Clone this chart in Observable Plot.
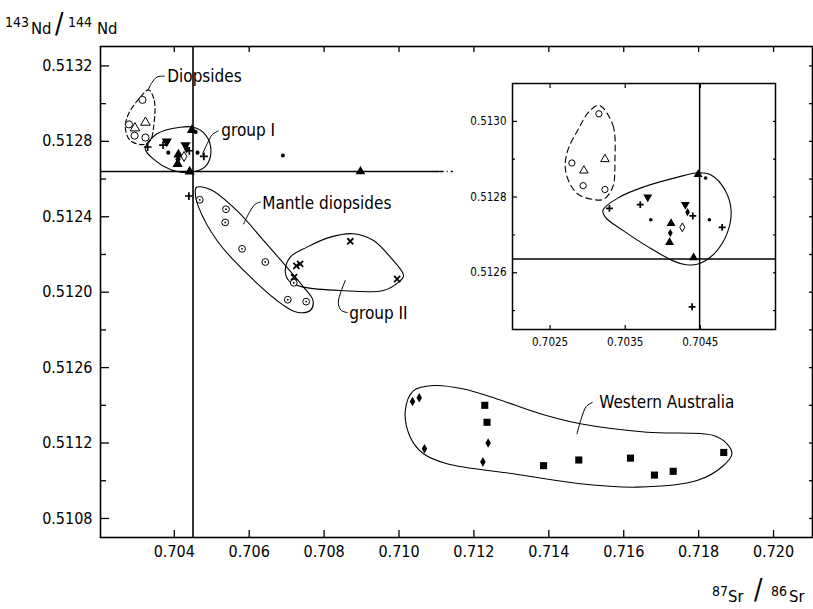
<!DOCTYPE html>
<html>
<head>
<meta charset="utf-8">
<script src="https://cdn.jsdelivr.net/npm/d3@7"></script>
<script src="https://cdn.jsdelivr.net/npm/@observablehq/plot@0.6"></script>
<style>
  html, body { margin: 0; padding: 0; background: white; }
  #wrap { position: relative; width: 813px; height: 609px; overflow: hidden; background: white;
          font-family: "DejaVu Sans Condensed", "DejaVu Sans", sans-serif; color: black; }
  #main { position: absolute; left: 0; top: 0; }
  #inset { position: absolute; left: 462px; top: 81px; }
  .t { position: absolute; line-height: 1; white-space: nowrap; }
</style>
</head>
<body>
<div id="wrap">
  <div id="main"></div>
  <div id="inset"></div>
  <span class="t" style="left:5px;top:15px;font-size:14px">143</span>
  <span class="t" style="left:31px;top:21px;font-size:16.5px">Nd</span>
  <span class="t" style="left:55px;top:10px;font-size:28px">/</span>
  <span class="t" style="left:68px;top:15px;font-size:14px">144</span>
  <span class="t" style="left:97px;top:21px;font-size:16.5px">Nd</span>
  <span class="t" style="left:712px;top:584px;font-size:14px">87</span>
  <span class="t" style="left:728px;top:589px;font-size:16.5px">Sr</span>
  <span class="t" style="left:754px;top:576px;font-size:28px">/</span>
  <span class="t" style="left:771px;top:584px;font-size:14px">86</span>
  <span class="t" style="left:789px;top:589px;font-size:16.5px">Sr</span>
</div>
<script>
// ---------------- data ----------------
// axes (main)
const mainXDomain = [0.70203, 0.72104];
const mainYDomain = [0.510699, 0.513303];
const xTicks = [0.704, 0.706, 0.708, 0.710, 0.712, 0.714, 0.716, 0.718, 0.720];
const yTicks = [0.5108, 0.5112, 0.5116, 0.5120, 0.5124, 0.5128, 0.5132];
const yTickLabels = ["0.5108", "0.5112", "0.5126", "0.5120", "0.5124", "0.5128", "0.5132"];
const yMinorTicks = [0.5110, 0.5114, 0.5118, 0.5122, 0.5126, 0.5130];
const yRightTicks = [0.5108, 0.5110, 0.5112, 0.5114, 0.5116, 0.5118, 0.5120, 0.5122, 0.5124, 0.5126, 0.5128, 0.5130, 0.5132];
// axes (inset)
const insetXDomain = [0.7020, 0.7055];
const insetYDomain = [0.51245, 0.51310];
const insetXTicks = [0.7025, 0.7035, 0.7045];
const insetYTicks = [0.5126, 0.5128, 0.5130];
const insetYMinor = [0.5125, 0.5127, 0.5129];
const insetYRight = [0.5125, 0.5126, 0.5127, 0.5128, 0.5129, 0.5130];

// reference lines (CHUR / bulk earth)
const refSr = 0.7045;
const refNd = 0.51264;
const refLineEnd = 0.71110;
const refLineDashEnd = 0.71145;

// Diopsides (open symbols)
const diopCircles = [[0.70315, 0.51302], [0.70279, 0.51289], [0.70294, 0.51283], [0.70323, 0.51282]];
const diopTriangles = [[0.70323, 0.51290], [0.70295, 0.51287]];
// group I
const g1TriUp = [[0.70447, 0.51286], [0.70411, 0.51273], [0.70409, 0.51268], [0.70441, 0.51264]];
const g1TriDown = [[0.70380, 0.51280], [0.70430, 0.51278]];
const g1Dots = [[0.70457, 0.51285], [0.70384, 0.51274], [0.70462, 0.51274]];
const g1Plus = [[0.70329, 0.51277], [0.70370, 0.51278], [0.70440, 0.51275], [0.70479, 0.51272]];
const g1DiamondFilled = [[0.70433, 0.51276], [0.70410, 0.512705]];
const g1DiamondOpen = [[0.70426, 0.51272]];
const loosePlus = [[0.70439, 0.51251]];
// other samples (main plot only)
const otherDots = [[0.70690, 0.512725]];
const otherTriangles = [[0.70897, 0.51264]];
const mantleDiopsides = [[0.70468, 0.51249], [0.70538, 0.51244], [0.70536, 0.51237], [0.70581, 0.51223],
  [0.70643, 0.51216], [0.70719, 0.51205], [0.70703, 0.51196], [0.70752, 0.51195]];
const groupII = [[0.70870, 0.51227], [0.70726, 0.51214], [0.70736, 0.51215], [0.70720, 0.51208], [0.70995, 0.51207]];
const waDiamonds = [[0.71036, 0.51142], [0.71054, 0.51144], [0.71068, 0.51117], [0.71238, 0.51120], [0.71224, 0.51110]];
const waSquares = [[0.71229, 0.51140], [0.71235, 0.51131], [0.71386, 0.51108], [0.71480, 0.51111],
  [0.71618, 0.51112], [0.71682, 0.51103], [0.71732, 0.51105], [0.71867, 0.51115]];

// field outlines (main)
const hullDiopMain = [[0.703314, 0.513073], [0.703466, 0.513016], [0.703447, 0.512875], [0.703359, 0.512804],
  [0.70318, 0.512783], [0.702825, 0.512804], [0.702692, 0.512875], [0.70278, 0.512946], [0.703092, 0.513034]];
const hullG1Main = [[0.703226, 0.51276], [0.703538, 0.51284], [0.70416, 0.512875], [0.704515, 0.512875],
  [0.704828, 0.512836], [0.70498, 0.512751], [0.704828, 0.512666], [0.704374, 0.512635], [0.703893, 0.512651], [0.703493, 0.512698]];
const hullMantle = [[0.704587, 0.512555], [0.704961, 0.512545], [0.705674, 0.512433], [0.706384, 0.512274],
  [0.706964, 0.512142], [0.707452, 0.512027], [0.707703, 0.511956], [0.707631, 0.511903], [0.707276, 0.511894],
  [0.706918, 0.51193], [0.705941, 0.512098], [0.70514, 0.512274], [0.704649, 0.512451], [0.704561, 0.512523]];
const hullG2 = [[0.706964, 0.512106], [0.707098, 0.512186], [0.707543, 0.512239], [0.708165, 0.512292],
  [0.708787, 0.51231], [0.709321, 0.512274], [0.709767, 0.512186], [0.710122, 0.512089], [0.709988, 0.512053],
  [0.709588, 0.512009], [0.708432, 0.512009], [0.707452, 0.512027], [0.707098, 0.512053]];
const hullWA = [[0.710168, 0.511372], [0.710389, 0.511478], [0.710923, 0.511505], [0.711724, 0.511487],
  [0.712616, 0.511434], [0.713772, 0.511355], [0.71484, 0.511302], [0.716621, 0.511257], [0.718399, 0.51124],
  [0.718757, 0.511196], [0.71889, 0.511143], [0.718666, 0.511081], [0.717956, 0.511001], [0.716354, 0.510966],
  [0.71484, 0.510984], [0.713059, 0.511037], [0.711281, 0.51109], [0.710656, 0.511143], [0.710301, 0.511231]];
// field outlines (inset)
const hullDiopInset = [[0.703153, 0.513042], [0.703336, 0.51299], [0.703363, 0.512897], [0.703336, 0.512828],
  [0.70322, 0.512795], [0.703087, 0.512793], [0.702856, 0.51281], [0.702709, 0.512866], [0.702729, 0.512919],
  [0.702883, 0.512982], [0.70302, 0.513026]];
const hullG1Inset = [[0.703203, 0.512765], [0.703416, 0.512799], [0.70375, 0.512827], [0.70419, 0.512852],
  [0.704476, 0.512864], [0.704643, 0.512858], [0.704829, 0.512818], [0.704909, 0.512765], [0.704856, 0.512704],
  [0.704683, 0.51265], [0.704469, 0.512623], [0.704309, 0.512621], [0.704153, 0.51263], [0.703816, 0.512667],
  [0.703469, 0.512712], [0.703243, 0.512745]];

// labels and leader lines (main)
const fieldLabels = [
  {x: 0.703786, y: 0.513144, t: "Diopsides"},
  {x: 0.705228, y: 0.512857, t: "group I"},
  {x: 0.706323, y: 0.512470, t: "Mantle diopsides"},
  {x: 0.708646, y: 0.511887, t: "group II"},
  {x: 0.715321, y: 0.511415, t: "Western Australia"}
];
const leaderDiop = [[0.703306, 0.513075], [0.703405, 0.513112], [0.703538, 0.513141], [0.703733, 0.513146]];
const leaderG1 = [[0.704748, 0.51273], [0.704881, 0.512788], [0.705015, 0.512836], [0.705175, 0.512855]];
const leaderMantle = [[0.70585, 0.512362], [0.706003, 0.512422], [0.706163, 0.512467], [0.706296, 0.512478]];
const leaderG2 = [[0.708566, 0.512062], [0.708379, 0.511945], [0.708459, 0.511903], [0.708619, 0.511892]];
const leaderWA = [[0.714752, 0.511249], [0.714867, 0.51133], [0.715, 0.511394], [0.71516, 0.511415]];

// ---------------- drawing ----------------
const X = d => d[0], Y = d => d[1];
const FONT = '"DejaVu Sans Condensed", "DejaVu Sans", sans-serif';
const S3 = Math.sqrt(3);
const triDown = {draw(ctx, size) {
  const y = Math.sqrt(size / (S3 * 3));
  ctx.moveTo(0, 2 * y); ctx.lineTo(S3 * y, -y); ctx.lineTo(-S3 * y, -y); ctx.closePath();
}};
const plusSym = {draw(ctx, size) {
  const r = Math.sqrt(size / Math.PI);
  ctx.moveTo(-r, 0); ctx.lineTo(r, 0); ctx.moveTo(0, -r); ctx.lineTo(0, r);
}};
const timesSym = {draw(ctx, size) {
  const r = Math.sqrt(size / Math.PI) * 0.72;
  ctx.moveTo(-r, -r); ctx.lineTo(r, r); ctx.moveTo(-r, r); ctx.lineTo(r, -r);
}};
const yLabelMap = new Map(yTicks.map((v, i) => [v, yTickLabels[i]]));

function sharedSymbols(k) {
  return [
    Plot.dot(diopCircles, {x: X, y: Y, r: 3.3 * k, stroke: "black", fill: "white", strokeWidth: 1}),
    Plot.dot(diopTriangles, {x: X, y: Y, symbol: "triangle", r: 3.3 * k, stroke: "black", fill: "white", strokeWidth: 1}),
    Plot.dot(g1TriUp, {x: X, y: Y, symbol: "triangle", r: 3.5 * k, fill: "black", stroke: "none"}),
    Plot.dot(g1TriDown, {x: X, y: Y, symbol: triDown, r: 3.5 * k, fill: "black", stroke: "none"}),
    Plot.dot(g1Dots, {x: X, y: Y, r: 1.9 * k, fill: "black", stroke: "none"}),
    Plot.dot(g1DiamondFilled, {x: X, y: Y, symbol: "diamond", r: 2.6 * k, fill: "black", stroke: "none"}),
    Plot.dot(g1DiamondOpen, {x: X, y: Y, symbol: "diamond", r: 2.8 * k, fill: "white", stroke: "black", strokeWidth: 1}),
    Plot.dot(g1Plus, {x: X, y: Y, symbol: plusSym, r: 3.6 * k, fill: "none", stroke: "black", strokeWidth: 1.7}),
    Plot.dot(loosePlus, {x: X, y: Y, symbol: plusSym, r: 3.6 * k, fill: "none", stroke: "black", strokeWidth: 1.7})
  ];
}

const main = Plot.plot({
  width: 813, height: 609,
  marginLeft: 100, marginRight: 1, marginTop: 46, marginBottom: 72,
  x: {domain: mainXDomain},
  y: {domain: mainYDomain},
  style: {fontFamily: FONT, fontSize: "16px", color: "black", background: "white"},
  marks: [
    Plot.frame({stroke: "black", strokeWidth: 1.6}),
    Plot.axisY(yTicks, {anchor: "left", tickSize: -9, tickPadding: 17, strokeWidth: 1.3,
      tickFormat: d => yLabelMap.get(d), label: null}),
    Plot.axisY(yMinorTicks, {anchor: "left", tickSize: -6, fill: "none", strokeWidth: 1.3, label: null}),
    Plot.axisY(yRightTicks, {anchor: "right", tickSize: -4, fill: "none", strokeWidth: 1.3, label: null}),
    Plot.axisX(xTicks, {anchor: "bottom", tickSize: -7, tickPadding: 15, strokeWidth: 1.3,
      tickFormat: d => d.toFixed(3), label: null}),
    Plot.axisX(xTicks, {anchor: "top", tickSize: -5, fill: "none", strokeWidth: 1.3, label: null}),
    Plot.ruleX([refSr], {stroke: "black", strokeWidth: 1.6}),
    Plot.ruleY([{y: refNd, x1: mainXDomain[0], x2: refLineEnd}], {y: "y", x1: "x1", x2: "x2", stroke: "black", strokeWidth: 1.6}),
    Plot.ruleY([{y: refNd, x1: refLineEnd, x2: refLineDashEnd}], {y: "y", x1: "x1", x2: "x2", stroke: "black", strokeWidth: 1.3, strokeDasharray: "4,3,1,3"}),
    // field outlines
    Plot.line(hullDiopMain, {x: X, y: Y, curve: "catmull-rom-closed", stroke: "black", strokeWidth: 1.1, strokeDasharray: "5,3"}),
    Plot.line(hullG1Main, {x: X, y: Y, curve: "catmull-rom-closed", stroke: "black", strokeWidth: 1.1}),
    Plot.line(hullMantle, {x: X, y: Y, curve: "catmull-rom-closed", stroke: "black", strokeWidth: 1.1}),
    Plot.line(hullG2, {x: X, y: Y, curve: "catmull-rom-closed", stroke: "black", strokeWidth: 1.1}),
    Plot.line(hullWA, {x: X, y: Y, curve: "catmull-rom-closed", stroke: "black", strokeWidth: 1.1}),
    // leader lines
    ...[leaderDiop, leaderG1, leaderMantle, leaderG2, leaderWA].map(l =>
      Plot.line(l, {x: X, y: Y, curve: "catmull-rom", stroke: "black", strokeWidth: 1})),
    Plot.text(fieldLabels, {x: "x", y: "y", text: "t", textAnchor: "start", fontSize: 17, fill: "black", dx: 1}),
    // symbols
    ...sharedSymbols(1.08),
    Plot.dot(otherDots, {x: X, y: Y, r: 2, fill: "black", stroke: "none"}),
    Plot.dot(otherTriangles, {x: X, y: Y, symbol: "triangle", r: 3.6, fill: "black", stroke: "none"}),
    Plot.dot(mantleDiopsides, {x: X, y: Y, r: 3.4, fill: "white", stroke: "black", strokeWidth: 1}),
    Plot.dot(mantleDiopsides, {x: X, y: Y, r: 0.9, fill: "black", stroke: "none"}),
    Plot.dot(groupII, {x: X, y: Y, symbol: timesSym, r: 4.2, fill: "none", stroke: "black", strokeWidth: 1.8}),
    Plot.dot(waDiamonds, {x: X, y: Y, symbol: "diamond", r: 2.9, fill: "black", stroke: "none"}),
    Plot.dot(waSquares, {x: X, y: Y, symbol: "square", r: 4, fill: "black", stroke: "none"})
  ]
});
document.getElementById("main").appendChild(main);

const inset = Plot.plot({
  width: 315, height: 272,
  marginLeft: 50, marginRight: 2, marginTop: 2, marginBottom: 24,
  x: {domain: insetXDomain},
  y: {domain: insetYDomain},
  style: {fontFamily: FONT, fontSize: "11.5px", color: "black", background: "white"},
  marks: [
    Plot.frame({stroke: "black", strokeWidth: 1.5}),
    Plot.axisY(insetYTicks, {anchor: "left", tickSize: -5, tickPadding: 11, strokeWidth: 1.2,
      tickFormat: d => d.toFixed(4), label: null}),
    Plot.axisY(insetYMinor, {anchor: "left", tickSize: -3, fill: "none", strokeWidth: 1.2, label: null}),
    Plot.axisY(insetYRight, {anchor: "right", tickSize: -3, fill: "none", strokeWidth: 1.2, label: null}),
    Plot.axisX(insetXTicks, {anchor: "bottom", tickSize: -4, tickPadding: 12, strokeWidth: 1.2,
      tickFormat: d => d.toFixed(4), label: null}),
    Plot.axisX(insetXTicks, {anchor: "top", tickSize: -4, fill: "none", strokeWidth: 1.2, label: null}),
    Plot.ruleX([0.70449], {stroke: "black", strokeWidth: 1.5}),
    Plot.ruleY([0.512636], {stroke: "black", strokeWidth: 1.5}),
    Plot.line(hullDiopInset, {x: X, y: Y, curve: "catmull-rom-closed", stroke: "black", strokeWidth: 1.1, strokeDasharray: "6,4"}),
    Plot.line(hullG1Inset, {x: X, y: Y, curve: "catmull-rom-closed", stroke: "black", strokeWidth: 1.1}),
    ...sharedSymbols(0.95)
  ]
});
document.getElementById("inset").appendChild(inset);
</script>
</body>
</html>
